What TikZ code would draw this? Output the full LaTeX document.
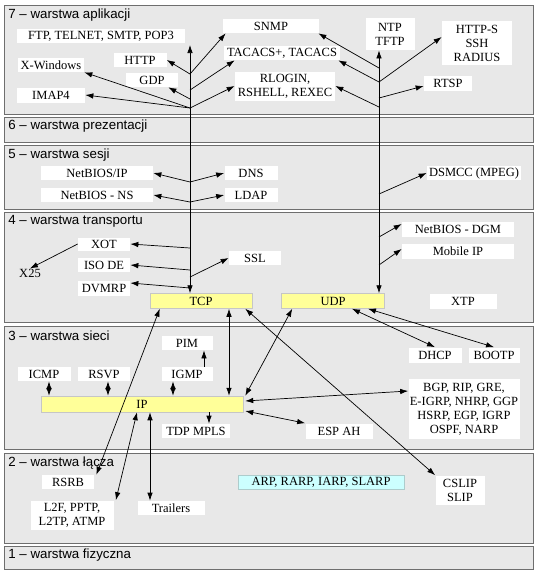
\documentclass[tikz,border=0pt]{standalone}
\usepackage{fontspec}
\setmainfont{Liberation Serif}
\setsansfont{Liberation Sans}
\usetikzlibrary{arrows.meta}

\definecolor{panelgray}{RGB}{232,232,232}
\definecolor{panelline}{RGB}{110,110,110}
\definecolor{coreyellow}{RGB}{255,255,153}
\definecolor{linkcyan}{RGB}{204,255,255}

\begin{document}
\begin{tikzpicture}[x=1pt, y=-1pt, >={Latex[length=8pt,width=5.5pt]}, line width=0.7pt,
  layer/.style={fill=panelgray, draw=panelline, line width=1pt},
  layer title/.style={anchor=west, inner sep=0pt, font=\sffamily\fontsize{13.3}{15}\selectfont},
  proto/.style={fill=white, inner sep=0pt, align=center, font=\fontsize{12.5}{14}\selectfont},
  core/.style={proto, fill=coreyellow, draw=gray!45, line width=0.5pt},
  link/.style={proto, fill=linkcyan, draw=linkcyan!60!gray, line width=0.5pt}]

\useasboundingbox (0,0) rectangle (539,576);

% panels of the layers
\path[layer] (4,5) rectangle (533,114);
\path[layer] (4,117) rectangle (533,142);
\path[layer] (4,145) rectangle (533,209);
\path[layer] (4,212) rectangle (533,322);
\path[layer] (4,326) rectangle (533,449);
\path[layer] (4,453) rectangle (533,543);
\path[layer] (4,546) rectangle (533,569);

\node[layer title] (L7) at (8,15) {7 -- warstwa aplikacji};
\node[layer title] (L6) at (8,126) {6 -- warstwa prezentacji};
\node[layer title] (L5) at (8,155) {5 -- warstwa sesji};
\node[layer title] (L4) at (8,221) {4 -- warstwa transportu};
\node[layer title] (L3) at (8,336) {3 -- warstwa sieci};
\node[layer title] (L2) at (8,463) {2 -- warstwa łącza};
\node[layer title] (L1) at (8,555) {1 -- warstwa fizyczna};

% layer 7
\node[proto, minimum width=168, minimum height=14] (FTP) at (101,36) {FTP, TELNET, SMTP, POP3};
\node[proto, minimum width=53, minimum height=14] (HTTP) at (140,60) {HTTP};
\node[proto, minimum width=66, minimum height=14] (XWin) at (51,65) {X-Windows};
\node[proto, minimum width=52, minimum height=14] (GDP) at (152,80) {GDP};
\node[proto, minimum width=68, minimum height=15] (IMAP) at (51,95) {IMAP4};
\node[proto, minimum width=96, minimum height=14] (SNMP) at (271,26) {SNMP};
\node[proto, minimum width=116, minimum height=14] (TACACS) at (282,53) {TACACS+, TACACS};
\node[proto, minimum width=100, minimum height=29] (RLOGIN) at (285,86) {RLOGIN,\\RSHELL, REXEC};
\node[proto, minimum width=49, minimum height=32] (NTP) at (390,34) {NTP\\TFTP};
\node[proto, minimum width=70, minimum height=44] (HTTPS) at (477,43) {HTTP-S\\SSH\\RADIUS};
\node[proto, minimum width=48, minimum height=15] (RTSP) at (448,83) {RTSP};

% layer 5
\node[proto, minimum width=112, minimum height=14] (NBIP) at (97,173) {NetBIOS/IP};
\node[proto, minimum width=112, minimum height=14] (NBNS) at (97,195) {NetBIOS - NS};
\node[proto, minimum width=53, minimum height=14] (DNS) at (251,173) {DNS};
\node[proto, minimum width=53, minimum height=14] (LDAP) at (251,195) {LDAP};
\node[proto, minimum width=94, minimum height=14] (DSMCC) at (474,173) {DSMCC (MPEG)};

% layer 4
\node[proto, minimum width=52, minimum height=13] (XOT) at (104,244) {XOT};
\node[proto, minimum width=52, minimum height=14] (ISODE) at (104,265) {ISO DE};
\node[proto, minimum width=52, minimum height=15] (DVMRP) at (104,288) {DVMRP};
\node[inner sep=0pt, font=\fontsize{12.5}{14}\selectfont] (X25) at (30,273) {X25};
\node[proto, minimum width=52, minimum height=14] (SSL) at (255,258) {SSL};
\node[proto, minimum width=112, minimum height=15] (NBDGM) at (458,229) {NetBIOS - DGM};
\node[proto, minimum width=112, minimum height=15] (MobIP) at (458,251) {Mobile IP};
\node[proto, minimum width=67, minimum height=15] (XTP) at (463,301) {XTP};
\node[core, minimum width=102, minimum height=15] (TCP) at (201,301) {TCP};
\node[core, minimum width=103, minimum height=15] (UDP) at (333,301) {UDP};

% layer 3
\node[proto, minimum width=51, minimum height=14] (PIM) at (187,343) {PIM};
\node[proto, minimum width=53, minimum height=14] (ICMP) at (44,374) {ICMP};
\node[proto, minimum width=52, minimum height=14] (RSVP) at (104,374) {RSVP};
\node[proto, minimum width=51, minimum height=14] (IGMP) at (187,374) {IGMP};
\node[core, minimum width=202, minimum height=16] (IP) at (142,404) {IP};
\node[proto, minimum width=68, minimum height=14] (TDP) at (196,431) {TDP MPLS};
\node[proto, minimum width=53, minimum height=15] (DHCP) at (435,355) {DHCP};
\node[proto, minimum width=51, minimum height=15] (BOOTP) at (494,355) {BOOTP};
\node[proto, minimum width=111, minimum height=60] (BGP) at (464,409)
  {BGP, RIP, GRE,\\E-IGRP, NHRP, GGP\\HSRP, EGP, IGRP\\OSPF, NARP};
\node[proto, minimum width=67, minimum height=15] (ESP) at (339,431) {ESP AH};

% layer 2
\node[proto, minimum width=52, minimum height=14] (RSRB) at (68,482) {RSRB};
\node[proto, minimum width=83, minimum height=29] (L2F) at (72,515) {L2F, PPTP,\\L2TP, ATMP};
\node[proto, minimum width=67, minimum height=14] (Trailers) at (171,508) {Trailers};
\node[link, minimum width=166, minimum height=14] (ARP) at (321,482) {ARP, RARP, IARP, SLARP};
\node[proto, minimum width=49, minimum height=29] (CSLIP) at (460,490) {CSLIP\\SLIP};

% branch points on the TCP and UDP lines
\coordinate (tcpup) at (190,45);
\coordinate (t7a) at (190,74);
\coordinate (t7b) at (190,90);
\coordinate (t7c) at (190,99);
\coordinate (t7d) at (190,108);
\coordinate (t5a) at (190,182);
\coordinate (t5b) at (190,202);
\coordinate (t4a) at (190,248);
\coordinate (t4b) at (190,270);
\coordinate (t4c) at (190,277);
\coordinate (t4d) at (190,288);
\coordinate (udpup) at (379,53);
\coordinate (u7a) at (379,68);
\coordinate (u7b) at (379,82);
\coordinate (u7c) at (379,98);
\coordinate (u7d) at (379,107);
\coordinate (u5a) at (379,194);
\coordinate (u4a) at (379,237);
\coordinate (u4b) at (379,265);

\draw[<->] (tcpup) -- (tcpup |- TCP.north);
\draw[<->] (udpup |- NTP.south) -- (udpup |- UDP.north);

% application protocols over TCP
\draw[->] (t7a) -- (HTTP.east);
\draw[->] (t7a) -- ([xshift=3pt]SNMP.south west);
\draw[->] (t7b) -- ([xshift=11pt]TACACS.south west);
\draw[->] (t7c) -- ([xshift=-10pt]GDP.south east);
\draw[->] (t7d) -- (XWin.south east);
\draw[->] (t7d) -- (IMAP.east);
\draw[->] (t7d) -- (RLOGIN.west);

% application protocols over UDP
\draw[->] (u7a) -- ([xshift=-1pt]SNMP.south east);
\draw[->] (u7b) -- ([xshift=-2pt]TACACS.south east);
\draw[->] (u7b) -- ([yshift=6pt]HTTPS.west);
\draw[->] (u7c) -- ([yshift=-3pt]RTSP.west);
\draw[->] (u7d) -- (RLOGIN.east);

% layer 5
\draw[->] (t5a) -- (NBIP.east);
\draw[->] (t5a) -- (DNS.west);
\draw[->] (t5b) -- (NBNS.east);
\draw[->] (t5b) -- (LDAP.west);
\draw[->] (u5a) -- (DSMCC.west);

% layer 4
\draw[->] (t4a) -- (XOT.east);
\draw[->] (t4b) -- (ISODE.east);
\draw[->] (t4c) -- (SSL.west);
\draw[->] (t4d) -- ([yshift=5pt]DVMRP.east);
\draw[->] (XOT.west) -- (X25.north);
\draw[->] (u4a) -- ([yshift=5pt]NBDGM.west);
\draw[->] (u4b) -- ([yshift=2pt]MobIP.west);

% layer 3
\draw[<->] ([xshift=28pt]TCP.south) -- ([xshift=28pt]TCP.south |- IP.north);
\draw[<->] ([xshift=11pt]UDP.south west) -- ([xshift=2pt]IP.north east);
\draw[<->] ([xshift=19pt]UDP.south) -- (DHCP.north);
\draw[<->] ([xshift=35pt]UDP.south) -- (BOOTP.north);
\draw[<->] ([xshift=-7pt]TCP.south east) -- (CSLIP.north west);
\draw[<->] ([xshift=2pt,yshift=3pt]IP.east) -- ([yshift=18pt]BGP.west);
\draw[<->] ([xshift=2pt,yshift=-7pt]IP.east) -- (ESP.north west);
\draw[<->] ([xshift=5pt]ICMP.south) -- ([xshift=5pt]ICMP.south |- IP.north);
\draw[<->] ([xshift=4pt]RSVP.south) -- ([xshift=4pt]RSVP.south |- IP.north);
\draw[<->] ([xshift=-14pt]IGMP.south) -- ([xshift=-14pt]IGMP.south |- IP.north);
\draw[->] ([xshift=17pt]IGMP.north) -- ([xshift=17pt]IGMP.north |- PIM.south);
\draw[->] ([xshift=67pt]IP.south) -- ([xshift=67pt]IP.south |- TDP.north);

% layer 2
\draw[<->] ([xshift=10pt]TCP.south west) -- ([xshift=2pt]RSRB.north east);
\draw[<->] ([xshift=-5pt]IP.south) -- ([xshift=2pt]L2F.north east);
\draw[<->] ([xshift=8pt]IP.south) -- ([xshift=8pt]IP.south |- Trailers.north);

\end{tikzpicture}
\end{document}
